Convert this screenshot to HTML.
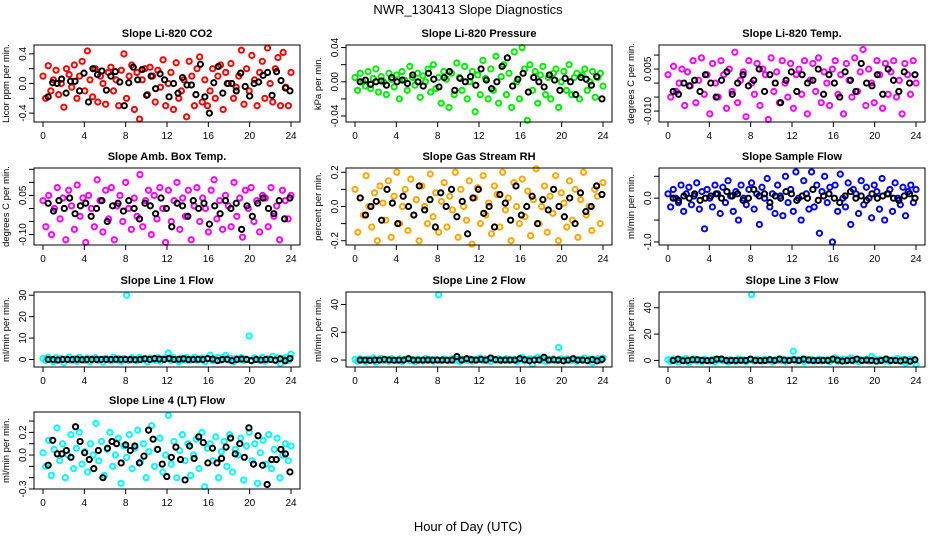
<!DOCTYPE html>
<html><head><meta charset="utf-8">
<style>
html,body{margin:0;padding:0;background:#fff;}
svg{display:block;font-family:"Liberation Sans",Arial,sans-serif;}
</style></head>
<body>
<svg id="chart" width="936" height="540" viewBox="0 0 936 540" xmlns="http://www.w3.org/2000/svg">
<text x="468" y="14" text-anchor="middle" font-size="13">NWR_130413  Slope Diagnostics</text>
<text x="468" y="531" text-anchor="middle" font-size="13">Hour of Day (UTC)</text>
</svg>
<script>
const hourTicks=[0,4,8,12,16,20,24];
const co2Vals=[0.1,-0.2,0.24,-0.1,0.05,0.18,-0.15,0.0,-0.32,0.2,0.12,-0.05,0.25,-0.2,0.1,0.3,-0.1,0.44,0.05,-0.18,0.2,-0.25,0.1,0.0,-0.28,0.15,0.22,-0.1,0.05,-0.3,0.18,0.4,-0.2,0.1,0.25,-0.35,0.15,-0.48,0.05,0.2,-0.15,0.22,0.1,-0.25,0.18,-0.05,0.32,-0.3,0.0,0.15,-0.35,0.28,-0.2,-0.1,0.05,-0.45,0.3,0.1,-0.3,0.2,0.36,-0.25,0.05,-0.3,-0.1,0.2,-0.2,0.1,0.25,-0.35,0.15,0.0,0.27,-0.2,-0.05,0.1,0.45,-0.28,0.2,-0.1,0.38,0.05,-0.3,0.15,0.3,-0.2,0.48,0.0,-0.25,0.2,0.35,-0.3,0.42,-0.05,-0.3,0.15];
const co2Black=[-0.18,0.01,0.0,0.06,-0.13,0.03,0.03,-0.1,0.14,-0.25,0.2,0.12,0.17,-0.09,0.1,0.16,0.02,-0.3,0.01,0.22,0.05,0.19,-0.16,0.1,-0.07,0.13,0.05,-0.18,0.0,-0.13,0.08,-0.02,-0.02,-0.15,0.26,-0.18,-0.4,0.01,0.23,-0.13,0.0,0.0,-0.1,0.14,-0.04,-0.17,0.0,0.02,0.11,0.15,-0.16,0.16,0.04,-0.06,-0.1];
const presVals=[0.005,-0.01,0.01,0.0,-0.005,0.012,-0.008,0.004,0.015,-0.012,0.006,0.0,-0.015,0.01,0.003,-0.006,0.008,-0.02,0.012,0.002,-0.01,0.018,0.005,-0.004,0.01,-0.018,0.007,0.0,0.015,-0.012,0.02,-0.008,0.005,-0.025,0.012,0.003,-0.03,0.01,-0.015,0.022,0.005,-0.01,0.018,-0.02,0.0,0.012,-0.035,0.008,-0.015,0.025,0.004,-0.02,0.015,-0.01,0.03,-0.025,0.006,0.02,-0.015,0.01,-0.03,0.035,0.0,-0.02,0.04,0.015,-0.045,0.02,-0.01,0.012,-0.025,0.008,0.018,-0.015,0.005,-0.02,0.01,0.015,-0.03,0.0,0.012,-0.01,0.02,-0.015,0.005,0.01,-0.02,0.008,0.015,-0.01,0.0,0.012,-0.018,0.005,0.01,-0.005];
const presBlack=[0.0,0.002,-0.003,0.0,0.001,-0.004,0.005,0.0,0.002,-0.002,0.008,0.0,-0.005,0.01,0.003,-0.006,0.005,0.012,-0.01,0.004,0.0,0.006,-0.004,0.015,0.002,-0.008,0.0,0.018,0.028,-0.005,0.003,0.01,-0.012,0.005,0.0,-0.006,0.008,0.002,-0.01,0.004,0.0,-0.015,0.005,0.003,-0.004,0.006,-0.02];
const tempVals=[0.003,-0.005,0.006,-0.003,0.0,0.005,-0.008,0.004,-0.001,0.008,-0.007,0.001,0.009,-0.004,0.003,-0.011,0.007,0.0,-0.005,0.008,0.003,-0.009,0.005,-0.003,0.011,-0.007,0.001,0.004,-0.012,0.008,0.0,-0.004,0.007,-0.008,0.005,0.003,-0.013,0.009,-0.003,0.004,-0.007,0.008,0.0,-0.005,0.007,-0.009,0.003,0.005,-0.004,0.008,-0.011,0.001,0.007,-0.003,0.009,-0.007,0.004,0.0,-0.008,0.005,0.008,-0.004,0.003,-0.011,0.007,0.001,-0.005,0.009,-0.003,0.004,0.012,-0.008,0.005,0.0,-0.007,0.008,0.003,-0.009,0.007,-0.004,0.004,0.008,-0.005,0.001,-0.011,0.007,0.003,-0.004,0.008,0.0];
const tempBlack=[-0.003,-0.004,0.0,-0.001,0.001,-0.003,0.003,0.0,-0.005,0.001,0.004,-0.004,0.0,0.003,-0.001,0.001,0.005,-0.003,0.003,0.0,-0.007,0.001,0.004,-0.003,0.003,0.0,0.001,0.005,-0.004,0.003,0.0,-0.005,0.004,0.001,-0.003,0.007,0.0,-0.001,0.003,-0.004,0.005,0.001,-0.003,0.004,0.0,0.003];
const ambVals=[0.03,-0.07,0.05,-0.1,0.0,0.08,-0.04,0.04,-0.12,0.07,0.01,-0.08,0.09,-0.03,0.04,-0.13,0.05,0.0,-0.07,0.11,0.03,-0.09,0.07,-0.04,0.08,-0.12,0.01,0.05,-0.05,0.1,0.0,-0.08,0.04,-0.03,0.13,-0.07,0.03,0.07,-0.1,0.05,-0.04,0.08,0.0,-0.13,0.07,-0.05,0.03,0.1,-0.08,0.04,-0.03,0.07,-0.12,0.01,0.08,-0.05,0.04,0.0,-0.09,0.07,0.11,-0.04,0.03,-0.08,0.05,0.01,-0.07,0.1,-0.03,0.04,-0.11,0.07,0.0,0.08,-0.05,0.03,-0.09,0.05,0.04,-0.07,0.08,-0.03,0.01,-0.12,0.07,0.03,-0.04,0.05];
const ambBlack=[0.02,-0.01,0.03,0.0,0.04,-0.02,0.01,0.02,-0.03,0.0,0.03,-0.05,0.01,0.02,-0.01,0.03,0.0,-0.04,0.02,0.01,-0.02,0.04,0.0,-0.07,0.02,0.01,-0.03,0.03,0.0,0.02,-0.06,0.01,-0.02,0.03,0.0,0.02,-0.08,0.01,-0.03,0.02,0.04,0.0,-0.02,0.03,-0.04,0.04];
const rhVals=[0.1,-0.15,0.05,-0.05,0.18,0.0,-0.12,0.08,-0.2,0.12,0.02,-0.08,0.15,-0.18,0.06,0.2,-0.1,0.0,0.1,-0.14,0.16,-0.05,0.04,-0.2,0.12,0.0,-0.1,0.19,-0.06,0.08,-0.15,0.03,0.14,-0.12,0.06,-0.02,0.2,-0.18,0.1,0.0,-0.08,0.15,-0.22,0.05,0.11,-0.1,0.18,-0.05,0.02,-0.16,0.12,0.07,-0.12,0.2,-0.02,0.05,-0.2,0.14,0.0,-0.1,0.16,-0.06,0.09,-0.17,0.04,0.22,-0.1,0.0,0.12,-0.15,0.06,-0.04,0.18,-0.2,0.08,0.02,-0.12,0.15,-0.08,0.1,-0.18,0.04,0.2,-0.05,0.0,-0.14,0.1,0.06,-0.1,0.14];
const rhBlack=[0.05,-0.05,0.0,0.03,-0.08,0.1,0.02,-0.1,0.06,0.0,-0.05,0.12,-0.02,0.04,-0.12,0.08,0.0,0.1,-0.06,0.03,-0.16,0.05,0.1,-0.04,0.0,-0.12,0.07,0.02,-0.08,0.12,-0.05,0.0,0.06,-0.1,0.04,-0.02,0.1,0.0,-0.06,0.05,-0.1,0.08,-0.03,0.0,0.12,0.07];
const flowVals=[0.1,-0.2,0.2,0.0,-0.1,0.3,-0.3,0.1,0.25,-0.15,0.05,0.35,-0.25,0.15,-0.7,0.2,0.0,-0.2,0.3,0.1,-0.35,0.25,-0.1,0.4,0.05,-0.3,0.15,-0.5,0.3,0.0,-0.15,0.2,0.35,-0.25,0.1,-0.6,0.25,0.0,0.45,-0.2,0.1,-0.35,0.3,0.05,-0.4,0.5,-0.1,0.2,-0.3,0.6,0.0,-0.5,0.4,0.1,-0.25,0.6,-0.2,0.3,-0.8,0.15,0.5,-0.1,0.25,-1.0,0.3,-0.3,0.55,0.0,-0.2,0.35,-0.6,0.2,0.1,-0.35,0.4,-0.15,0.25,0.0,-0.45,0.3,0.15,-0.25,0.45,-0.5,0.1,0.2,-0.3,0.35,0.0,-0.15,0.25,-0.4,0.15,0.3,-0.1,0.2];
const flowBlack=[0.0,-0.05,0.05,0.0,0.1,-0.05,0.0,0.05,0.1,0.0,0.15,0.05,0.1,-0.05,0.0,0.2,0.05,0.1,-0.1,0.05,0.0,0.15,0.1,-0.05,0.05,0.0,0.2,-0.05,0.05,0.1,0.0,-0.1,0.05,0.15,0.0,0.05,-0.05,0.1,0.0,0.05,0.1,0.0,-0.05,0.05,0.1,0.0];
const line1Vals=[0.5,-0.5,1,0,-1,0.8,-0.3,0.5,-1.5,0.2,1.2,-0.6,0.4,-0.8,1,0,-0.5,0.7,-1,0.3,0.9,-0.4,0.2,-1.2,0.6,0,-0.7,1.1,-0.3,0.4,-0.9,0.5,30,-0.5,0.8,0,-0.6,1,-0.2,0.4,-1,0.7,0,-0.4,0.9,-0.8,0.3,0.6,3,-0.5,0.8,0,-1,0.6,-0.3,0.9,-0.6,0.2,1,-0.4,0,0.7,-0.9,0.5,2,-0.6,0.3,1,-0.5,0.8,2,-0.3,0.4,-1,0.6,0,0.9,-0.5,0.3,11,-0.7,0.8,0,-0.4,1,-0.8,0.5,0.2,1.5,-0.6,0.8,-2,0.4,1,-0.5,2.5];
const line1Black=[0,0,-0.2,0,0,0,0.1,-0.1,0,0,0,0,0,0,0.1,0,0,0,-0.1,0,0.3,0,0.4,0.2,0,0.5,0,0.1,0.3,0,0,0.1,0,0.4,0.2,-0.5,0,0.1,-0.5,0,0.2,0,-0.5,0,-0.2,0,0,-0.3,0.3,-0.6,0.5];
const line2Vals=[0.5,-0.8,1,0,-1.2,0.8,-0.3,1.5,-1.5,0.2,1.2,-0.6,0.4,-0.8,1,0,-0.5,0.7,-1,0.3,0.9,-0.4,0.2,-1.2,0.6,0,-0.7,1.1,-0.3,0.4,-0.9,0.5,47,-0.5,0.8,0,-0.6,1,-0.2,0.4,-1,0.7,0,-0.4,0.9,-0.8,0.3,0.6,1.5,-0.5,0.8,0,-1,0.6,-0.3,0.9,-0.6,0.2,1,-0.4,0,0.7,-0.9,0.5,2,-0.6,0.3,1,-3,0.8,2,-0.3,0.4,-1,0.6,0,0.9,-0.5,9,1,-0.7,0.8,0,-0.4,1,-0.8,0.5,0.2,1.5,-0.6,0.8,-2,0.4,1,-0.5,1.5];
const line2Black=[0,0,-0.2,0,0,0.5,0.1,-0.1,0,0,1,0,0,0,0.1,0,0,0,-0.1,0,2.5,0,1,0.2,0,0.5,0,1.5,0.3,0,0,0.1,0,1,0.2,-0.5,0,0.1,2,0,0.2,0,-0.5,0,1,0,0,-0.3,0.3,-0.6,0.5];
const line3Vals=[0.5,-0.8,1,0,-1.2,0.8,-0.3,1.5,-1.5,0.2,1.2,-0.6,0.4,-0.8,1,0,-0.5,0.7,-1,0.3,0.9,-0.4,0.2,-1.2,0.6,0,-0.7,1.1,-0.3,0.4,-0.9,0.5,50,-0.5,0.8,0,-0.6,1,-0.2,0.4,-1,0.7,0,-0.4,0.9,-0.8,0.3,0.6,7,-0.5,0.8,0,-1,0.6,-0.3,0.9,-0.6,0.2,1,-0.4,0,0.7,-0.9,0.5,2,-0.6,0.3,1,-0.5,0.8,2,-0.3,0.4,-1,0.6,0,0.9,-0.5,3,1,-0.7,0.8,0,-0.4,1,-0.8,0.5,0.2,1.5,-0.6,0.8,-2,0.4,1,-0.5,-3];
const line3Black=[0,1,-0.2,0,0.5,0.5,0.1,-0.1,0,1,1,0,0,0,0.1,0,1,0,-0.1,0,0.5,0,1,0.2,0,0.5,0,1,0.3,0,0,0.1,0,1,0.2,-0.5,0,0.1,1,0,0.2,0,-0.5,0,1,0,0,-0.3,0.3,-0.6,0.5];
const line4Vals=[0.02,-0.1,0.13,-0.18,0.05,0.24,-0.05,0.1,-0.2,0.0,0.18,-0.12,0.06,0.2,-0.08,0.03,-0.15,0.1,0.0,0.28,-0.05,0.12,-0.18,0.05,0.2,-0.1,0.0,0.15,-0.25,0.08,-0.02,0.18,-0.12,0.06,0.22,-0.06,0.1,-0.2,0.03,0.26,-0.1,0.05,0.15,-0.15,0.0,0.35,-0.08,0.12,-0.2,0.04,0.18,-0.05,0.1,-0.18,0.0,0.14,-0.12,0.2,-0.28,0.06,0.1,-0.05,0.16,-0.2,0.03,0.12,-0.1,0.18,-0.15,0.05,0.0,0.15,-0.22,0.08,0.2,-0.05,0.1,-0.25,0.02,0.13,-0.08,0.18,-0.12,0.05,0.15,-0.2,0.0,0.1,-0.05,0.08];
const line4Black=[-0.09,0.13,0.01,0.01,0.04,-0.02,0.25,0.12,0.02,-0.04,-0.12,0.04,-0.2,0.06,0.12,0.1,-0.07,0.09,0.04,0.08,-0.07,-0.01,0.22,0.14,0.05,-0.08,-0.19,-0.02,0.07,-0.04,-0.22,0.08,-0.03,0.16,0.11,-0.07,0.06,-0.07,-0.03,0.07,0.15,0.01,0.1,-0.02,0.24,-0.08,0.17,-0.09,-0.26,-0.04,-0.04,0.05,0.01,-0.15];

const panels=[
 {name:'co2',title:'Slope Li-820 CO2',ylab:'Licor ppm per min.',col:0,row:0,ymin:-0.52,ymax:0.52,ticks:[-0.4,-0.2,0,0.2,0.4],labels:['-0.4','','0.0','','0.4'],color:'#ff0000',vals:co2Vals,blk:co2Black},
 {name:'pressure',title:'Slope Li-820 Pressure',ylab:'kPa per min.',col:1,row:0,ymin:-0.047,ymax:0.043,ticks:[-0.04,-0.02,0,0.02,0.04],labels:['-0.04','','0.00','','0.04'],color:'#00ee00',vals:presVals,blk:presBlack},
 {name:'temp',title:'Slope Li-820 Temp.',ylab:'degrees C per min.',col:2,row:0,ymin:-0.0139,ymax:0.0136,ticks:[-0.01,-0.005,0,0.005,0.01],labels:['-0.010','','','0.005',''],color:'#ff00ff',vals:tempVals,blk:tempBlack},
 {name:'amb-box-temp',title:'Slope Amb. Box Temp.',ylab:'degrees C per min.',col:0,row:1,ymin:-0.14,ymax:0.155,ticks:[-0.1,-0.05,0,0.05,0.1,0.15],labels:['-0.10','','','0.05','',''],color:'#ff00ff',vals:ambVals,blk:ambBlack},
 {name:'gas-rh',title:'Slope Gas Stream RH',ylab:'percent per min.',col:1,row:1,ymin:-0.225,ymax:0.225,ticks:[-0.2,-0.1,0,0.1,0.2],labels:['-0.2','','0.0','','0.2'],color:'#ffa500',vals:rhVals,blk:rhBlack},
 {name:'sample-flow',title:'Slope Sample Flow',ylab:'ml/min per min.',col:2,row:1,ymin:-1.07,ymax:0.69,ticks:[-1,-0.5,0,0.5],labels:['-1.0','','0.0',''],color:'#0000ff',vals:flowVals,blk:flowBlack},
 {name:'line1-flow',title:'Slope Line 1 Flow',ylab:'ml/min per min.',col:0,row:2,ymin:-3.5,ymax:31.5,ticks:[0,10,20,30],labels:['0','10','20','30'],color:'#00ffff',vals:line1Vals,blk:line1Black},
 {name:'line2-flow',title:'Slope Line 2 Flow',ylab:'ml/min per min.',col:1,row:2,ymin:-5,ymax:49,ticks:[0,20,40],labels:['0','20','40'],color:'#00ffff',vals:line2Vals,blk:line2Black},
 {name:'line3-flow',title:'Slope Line 3 Flow',ylab:'ml/min per min.',col:2,row:2,ymin:-5,ymax:52,ticks:[0,20,40],labels:['0','20','40'],color:'#00ffff',vals:line3Vals,blk:line3Black},
 {name:'line4-flow',title:'Slope Line 4 (LT) Flow',ylab:'ml/min per min.',col:0,row:3,ymin:-0.3,ymax:0.38,ticks:[-0.3,-0.2,-0.1,0,0.1,0.2,0.3],labels:['-0.3','','','0.0','','0.2',''],color:'#00ffff',vals:line4Vals,blk:line4Black}
];
const colX=[[34,300],[346,612],[659,925]];
const rowY=[[45,122],[168,245],[292,367],[412,489]];
const svg=document.getElementById('chart');
const NS='http://www.w3.org/2000/svg';
function mk(tag,attrs,parent){const e=document.createElementNS(NS,tag);for(const k in attrs)e.setAttribute(k,attrs[k]);parent.appendChild(e);return e;}
panels.forEach(p=>{
 const [L,R]=colX[p.col],[T,B]=rowY[p.row];
 const xs=h=>L+9+(h/24)*(R-L-18);
 const ys=v=>B-(v-p.ymin)/(p.ymax-p.ymin)*(B-T);
 const g=mk('g',{},svg);
 
 
 const t=mk('text',{x:(L+R)/2,y:T-8,'text-anchor':'middle','font-size':'11','font-weight':'bold'},g);
 t.textContent=p.title;
 
 
 const yl=mk('text',{transform:`translate(${L-25},${(T+B)/2}) rotate(-90)`,'text-anchor':'middle','font-size':'9.5'},g);
 yl.textContent=p.ylab;
 
 
 const pts=mk('g',{fill:'none','stroke-width':'2'},g);
 
 
 const n=p.vals.length;
 p.vals.forEach((v,i)=>{const c=mk('circle',{cx:xs(i*24/(n-1)),cy:ys(v),r:2.6,stroke:p.color},pts);
  
  });
 const nb=p.blk.length;
 p.blk.forEach((v,i)=>{const c=mk('circle',{cx:xs(0.5+i*23.4/(nb-1)),cy:ys(v),r:2.6,stroke:'#000'},pts);
  
  });
 const box=mk('rect',{x:L,y:T,width:R-L,height:B-T,fill:'none',stroke:'#000','stroke-width':'1'},g);
 
 
 hourTicks.forEach(h=>{mk('line',{x1:xs(h),x2:xs(h),y1:B,y2:B+5,stroke:'#000'},g);
  const tl=mk('text',{x:xs(h),y:B+17,'text-anchor':'middle','font-size':'10'},g);tl.textContent=h;
  
  });
 p.ticks.forEach((v,i)=>{mk('line',{x1:L-5,x2:L,y1:ys(v),y2:ys(v),stroke:'#000'},g);
  if(p.labels[i]){const tl=mk('text',{transform:`translate(${L-8},${ys(v)}) rotate(-90)`,'text-anchor':'middle','font-size':'10'},g);tl.textContent=p.labels[i];
  
  }});
});
</script>
</body></html>
